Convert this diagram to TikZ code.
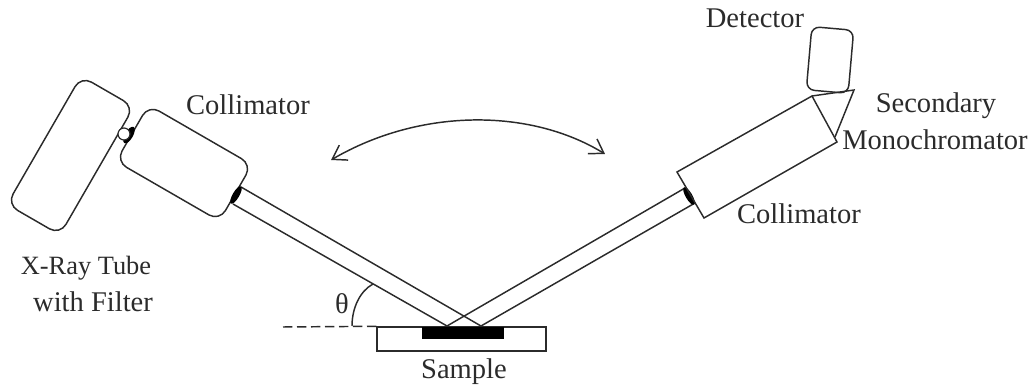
\documentclass[tikz,border=0pt]{standalone}
\usepackage{fontspec}
\setmainfont{Liberation Serif}
\usetikzlibrary{arrows.meta, shapes.geometric}
\definecolor{inkgray}{HTML}{2B2B2B}
\tikzset{
  tubebox/.style={draw, rounded corners=9pt, inner sep=0pt},
  caption/.style={font=\fontsize{21.4}{25}\selectfont, text=inkgray, inner sep=0pt, align=center},
  joint/.style={fill=black, ellipse, minimum width=5pt, minimum height=15pt, inner sep=0pt}
}

\begin{document}
\begin{tikzpicture}[x=0.75pt, y=-0.75pt, line width=1.1pt, inkgray]
\useasboundingbox (0,0) rectangle (1033,388);

% sample stage and the black sample on it
\node[draw, minimum width=126.75pt, minimum height=18pt, inner sep=0pt] (Stage) at (461.5,339) {};
\node[fill=black, minimum width=61.5pt, minimum height=9pt, inner sep=0pt] (Specimen) at (463,333.5) {};

% left side: tube and collimator
\node[tubebox, rotate=-30, minimum width=45.75pt, minimum height=111pt] (Tube) at (70.5,155.5) {};
\node[tubebox, rotate=-30, minimum width=89.5pt, minimum height=48.75pt] (CollLeft) at (184,163) {};

% small joint between tube and collimator
\node[joint, rotate=-30, minimum width=6pt, minimum height=14pt] (JointTube) at (129,135) {};
\node[draw, circle, fill=white, minimum size=9pt, inner sep=0pt, line width=0.9pt] (Window) at (124,134) {};

% incoming beam
\coordinate (LeftTop) at (241,187);
\coordinate (LeftLow) at (233,204);
\coordinate (HitRight) at (481,326);
\coordinate (HitLeft) at (447,326);
\draw (LeftTop) -- (HitRight);
\draw (LeftLow) -- (HitLeft);
\node[joint, rotate=-30] (JointLeft) at (236,195) {};

% outgoing beam
\coordinate (RightTop) at (685,188);
\coordinate (RightLow) at (695,203);
\draw (HitLeft) -- (RightTop);
\draw (HitRight) -- (RightLow);
\node[joint, rotate=30] (JointRight) at (689,196) {};

% right collimator
\coordinate (A) at (677,172);
\coordinate (B) at (704,218);
\coordinate (D) at (837,142);
\coordinate (E) at (812,96);
\draw (A) -- (B) -- (D) -- (E) -- cycle;

% monochromator triangle
\coordinate (F) at (854,90);
\coordinate (G) at (835,137);
\draw (E) -- (F) -- (G);

% detector
\node[tubebox, rounded corners=6pt, rotate=-5, minimum width=31.5pt, minimum height=47.5pt] (Detector) at (830,60) {};

% swing arrow
\coordinate (SwingL) at (331,160);
\coordinate (SwingR) at (605,154);
\draw[{Straight Barb[length=10pt,width=13pt]}-{Straight Barb[length=10pt,width=13pt]}] (SwingL) .. controls (420,108) and (530,108) .. (SwingR);

% angle
\coordinate (ArcFoot) at (352,326);
\coordinate (ArcTop) at (373,284);
\draw (ArcFoot) .. controls (352,308) and (360,291) .. (ArcTop);
\draw[dashed, dash pattern=on 7pt off 3.5pt] (283,327) -- (Stage.north west);
\node[caption] (Angle) at (342,304) {θ};

% labels
\node[caption] (LabelColl) at (248,105) {Collimator};
\node[caption] (LabelDet) at (755,18) {Detector};
\node[caption] (LabelSec) at (936,106) {Secondary};
\node[caption] (LabelMono) at (935,140) {Monochromator};
\node[caption] (LabelColl2) at (799,214) {Collimator};
\node[caption, font=\fontsize{19.8}{24}\selectfont] (LabelTube) at (86,268) {X-Ray Tube};
\node[caption] (LabelFilter) at (93,302) {with Filter};
\node[caption] (LabelSample) at (464,372) {Sample};

\end{tikzpicture}
\end{document}
